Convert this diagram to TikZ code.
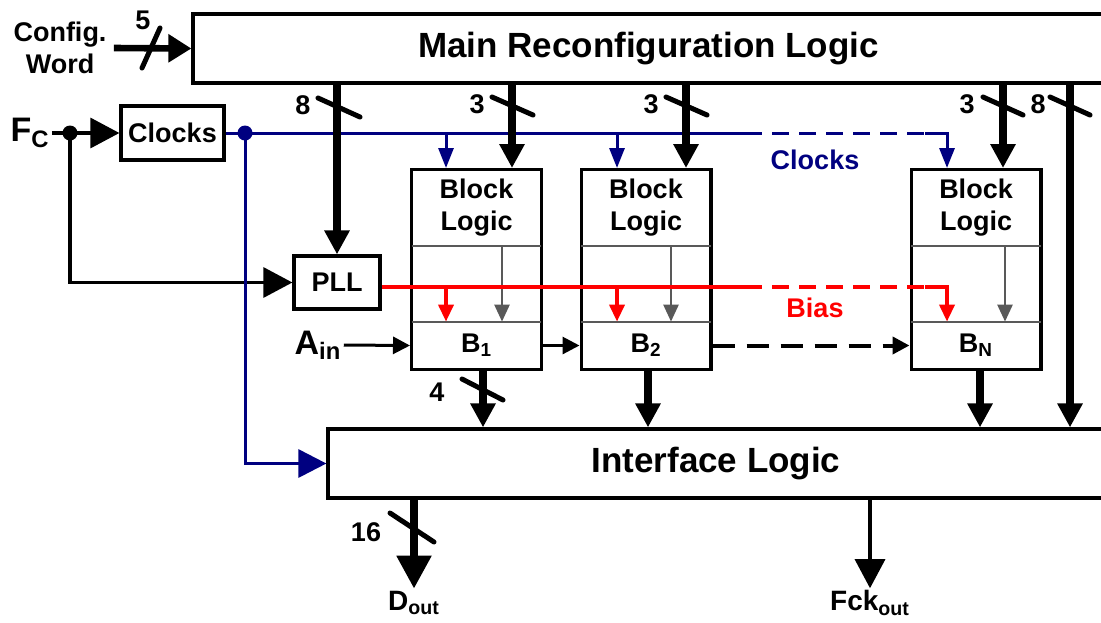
\documentclass[tikz,border=0pt]{standalone}
\usepackage{fontspec}
\setmainfont{Liberation Sans}
\usetikzlibrary{positioning,arrows.meta,fit}
\definecolor{clkblue}{HTML}{000080}
\definecolor{biasred}{HTML}{FF0000}
\definecolor{ctlgray}{HTML}{595959}
\begin{document}
\begin{tikzpicture}[
  x=0.5pt, y=-0.5pt,
  font=\bfseries\fontsize{13.5}{16}\selectfont,
  box/.style={draw, line width=1.6pt, inner sep=0pt, align=center},
  blkpart/.style={inner sep=0pt, minimum width=64.5pt, align=center},
  blkframe/.style={draw, line width=1.6pt, inner sep=0pt},
  div/.style={draw=ctlgray, line width=1pt},
  bus/.style={line width=4pt, -{Triangle[length=12pt, width=12pt]}},
  sig/.style={line width=1.5pt, -{Triangle[length=8.5pt, width=8.5pt]}},
  bigsig/.style={line width=1.6pt, -{Triangle[length=14.5pt, width=15pt]}},
  clk/.style={draw=clkblue, line width=1.5pt},
  clktap/.style={clk, -{Triangle[length=10pt, width=7.5pt]}},
  bias/.style={draw=biasred, line width=1.8pt},
  biastap/.style={bias, -{Triangle[length=8.5pt, width=7.5pt]}},
  ctl/.style={draw=ctlgray, line width=1.3pt, -{Triangle[length=8.5pt, width=7.5pt]}},
  slash/.style={line width=2.5pt, line cap=round},
  dashline/.style={dash pattern=on 8.5pt off 5pt},
  lbl/.style={inner sep=1pt, align=center},
  biglbl/.style={inner sep=1pt, font=\bfseries\fontsize{17}{20}\selectfont},
]
  \useasboundingbox (0,0) rectangle (1101,622);

  % main blocks
  \node[box, minimum width=455.5pt, minimum height=34.5pt, font=\bfseries\fontsize{17.5}{21}\selectfont] (main) at (648.5,48.5) {Main Reconfiguration Logic};
  \node[box, minimum width=388pt, minimum height=34.5pt, font=\bfseries\fontsize{17.5}{21}\selectfont] (intf) at (716,463.5) {Interface Logic};
  \node[box, minimum width=51.5pt, minimum height=27pt] (clocks) at (172.5,133) {Clocks};
  \node[box, minimum width=43pt, minimum height=26.5pt] (pll) at (337,282.5) {PLL};

  % channel blocks
  \node[blkpart, minimum height=38pt] (lg1) at (476.5,208) {Block\\Logic};
  \node[blkpart, minimum height=23.5pt] (b1) at (476.5,345.5) {B\textsubscript{1}};
  \node[blkframe, fit=(lg1)(b1)] (blk1) {};
  \node[blkpart, minimum height=38pt] (lg2) at (646,208) {Block\\Logic};
  \node[blkpart, minimum height=23.5pt] (b2) at (646,345.5) {B\textsubscript{2}};
  \node[blkframe, fit=(lg2)(b2)] (blk2) {};
  \node[blkpart, minimum height=38pt] (lgN) at (976,208) {Block\\Logic};
  \node[blkpart, minimum height=23.5pt] (bN) at (976,345.5) {B\textsubscript{N}};
  \node[blkframe, fit=(lgN)(bN)] (blkN) {};
  \draw[div] (lg1.south west) -- (lg1.south east);
  \draw[div] (b1.north west) -- (b1.north east);
  \draw[div] (lg2.south west) -- (lg2.south east);
  \draw[div] (b2.north west) -- (b2.north east);
  \draw[div] (lgN.south west) -- (lgN.south east);
  \draw[div] (bN.north west) -- (bN.north east);
  \draw[ctl] ([xshift=12.75pt]lg1.south) -- ([xshift=12.75pt]b1.north);
  \draw[ctl] ([xshift=12.5pt]lg2.south) -- ([xshift=12.5pt]b2.north);
  \draw[ctl] ([xshift=14.5pt]lgN.south) -- ([xshift=14.5pt]bN.north);

  % labels
  \node[lbl] (cfg) at (60,48) {Config.\\Word};
  \node[biglbl] (fc) at (30,133) {F\textsubscript{C}};
  \node[biglbl] (ain) at (318,345) {A\textsubscript{in}};
  \node[lbl, font=\bfseries\fontsize{14}{16}\selectfont] (dout) at (414,603) {D\textsubscript{out}};
  \node[lbl, font=\bfseries\fontsize{14}{16}\selectfont] (fck) at (870,603) {Fck\textsubscript{out}};
  \node[lbl, text=clkblue] (cklbl) at (815,160) {Clocks};
  \node[lbl, text=biasred] (bslbl) at (815,308) {Bias};
  \node[lbl] (n5) at (143,20) {5};
  \node[lbl] (n8a) at (303,105) {8};
  \node[lbl] (n3a) at (477,104) {3};
  \node[lbl] (n3b) at (651,104) {3};
  \node[lbl] (n3c) at (967,104) {3};
  \node[lbl] (n8b) at (1038,104) {8};
  \node[lbl] (n4) at (437,392) {4};
  \node[lbl] (n16) at (366,532) {16};

  \coordinate (fcdot) at (70,133);
  \coordinate (ckdot) at (245,133);
  \coordinate (ckdash) at (745,133);
  \coordinate (ckturn) at (925,133);
  \coordinate (bsdash) at (745,287);
  \coordinate (bsturn) at (925,287);
  \coordinate (r8) at (1070,0);

  % config and clock inputs
  \draw[line width=3.3pt, -{Triangle[length=11.5pt, width=13.5pt]}] ([xshift=2.5pt]cfg.east) -- (main.west);
  \draw[bigsig] (fc.east) -- (clocks.west);
  \draw[bigsig] (fcdot) |- (pll.west);
  \fill (fcdot) circle (3.75pt);

  % clock distribution
  \draw[clk] (clocks.east) -- (ckdash);
  \draw[clk, dashline] (ckdash) -- (ckturn);
  \draw[clktap] (ckturn) -| ([xshift=-14.5pt]blkN.north);
  \draw[clktap] ([xshift=-15.25pt]blk1.north |- ckdot) -- ([xshift=-15.25pt]blk1.north);
  \draw[clktap] ([xshift=-14.5pt]blk2.north |- ckdot) -- ([xshift=-14.5pt]blk2.north);
  \draw[clk, -{Triangle[length=14pt, width=14pt]}] (ckdot) |- (intf.west);
  \fill[clkblue] (ckdot) circle (3.75pt);

  % bias distribution
  \draw[bias] ([yshift=-2.25pt]pll.east) -- (bsdash);
  \draw[bias, dashline] (bsdash) -- (bsturn);
  \draw[biastap] (bsturn) -| ([xshift=-14.5pt]bN.north);
  \draw[biastap] ([xshift=-15.25pt]b1.north |- bsdash) -- ([xshift=-15.25pt]b1.north);
  \draw[biastap] ([xshift=-14.5pt]b2.north |- bsdash) -- ([xshift=-14.5pt]b2.north);

  % configuration buses
  \draw[bus] (pll.north |- main.south) -- (pll.north);
  \draw[bus] ([xshift=17.75pt]blk1.north |- main.south) -- ([xshift=17.75pt]blk1.north);
  \draw[bus] ([xshift=20pt]blk2.north |- main.south) -- ([xshift=20pt]blk2.north);
  \draw[bus] ([xshift=13.5pt]blkN.north |- main.south) -- ([xshift=13.5pt]blkN.north);
  \draw[bus] (main.south -| r8) -- (intf.north -| r8);

  % signal chain
  \draw[sig] (ain.east) -- (blk1.west |- b1);
  \draw[sig] (blk1.east |- b1) -- (blk2.west |- b2);
  \draw[sig, line width=2pt, dash pattern=on 11pt off 6pt] (blk2.east |- b2) -- (blkN.west |- bN);
  \draw[bus] ([xshift=3.25pt]blk1.south) -- ([xshift=3.25pt]blk1.south |- intf.north);
  \draw[bus] ([xshift=1pt]blk2.south) -- ([xshift=1pt]blk2.south |- intf.north);
  \draw[bus] ([xshift=2pt]blkN.south) -- ([xshift=2pt]blkN.south |- intf.north);

  % outputs
  \draw[line width=4pt, -{Triangle[length=16.5pt, width=16.5pt]}] (intf.south -| dout.north) -- (dout.north);
  \draw[bigsig] (intf.south -| fck.north) -- (fck.north);

  % bus widths
  \draw[slash] (142,68) -- (160,28);
  \draw[slash] (318,98) -- (360,117);
  \draw[slash] (492,97) -- (533,115);
  \draw[slash] (666,97) -- (707,115);
  \draw[slash] (983,97) -- (1023,115);
  \draw[slash] (1050,97) -- (1090,115);
  \draw[slash] (462,379) -- (503,400);
  \draw[slash] (390,513) -- (434,542);
\end{tikzpicture}
\end{document}
